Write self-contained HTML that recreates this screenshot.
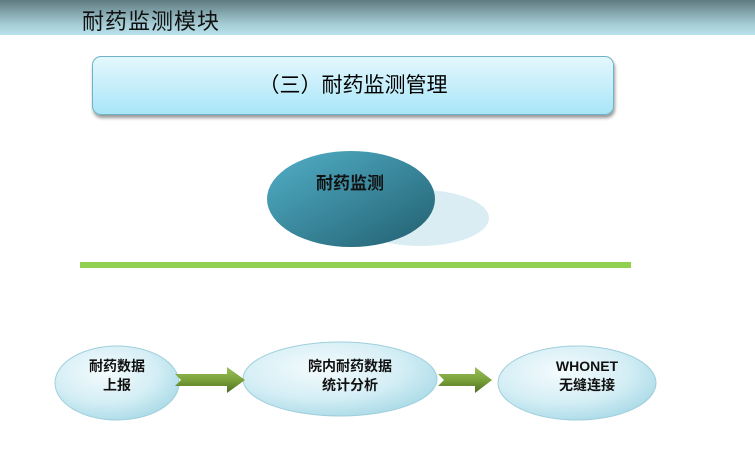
<!DOCTYPE html>
<html><head><meta charset="utf-8"><style>
body{margin:0;width:755px;height:462px;overflow:hidden;background:#fff;font-family:"Liberation Sans","Noto Sans CJK SC",sans-serif;position:relative}
.hdr{position:absolute;left:0;top:0;width:755px;height:35px;background:linear-gradient(#5f7b80,#a6cdd6 70%,#b8e2ec)}
.hdr span{position:absolute;left:82px;top:4px;font-size:22px;color:#111;letter-spacing:1px}
.title{position:absolute;left:92px;top:56px;width:520px;height:57px;border:1px solid #6fb3c9;border-radius:9px;background:linear-gradient(#e4f7fd,#a8e6f8);box-shadow:1px 3px 3px #999;text-align:center;line-height:57px;font-size:21px;color:#000}
.t{position:absolute;font-size:14px;font-weight:bold;color:#111;text-align:center;line-height:19px}
</style></head><body>
<div class="hdr"><span>耐药监测模块</span></div>
<div class="title">（三）耐药监测管理</div>
<svg width="755" height="462" style="position:absolute;left:0;top:0">
<defs>
<linearGradient id="g1" x1="0" y1="0" x2="1" y2="1"><stop offset="0" stop-color="#52b0c8"/><stop offset="1" stop-color="#225f70"/></linearGradient>
<radialGradient id="g2" cx="0.4" cy="0.35" r="0.7"><stop offset="0" stop-color="#f4fbfd"/><stop offset="0.6" stop-color="#d4eef5"/><stop offset="1" stop-color="#a9dae7"/></radialGradient>
<linearGradient id="ga" x1="0" y1="0" x2="0" y2="1"><stop offset="0" stop-color="#9cbf5a"/><stop offset="0.5" stop-color="#7aa23a"/><stop offset="1" stop-color="#4f6e20"/></linearGradient>
</defs>
<ellipse cx="420" cy="218" rx="69" ry="28" fill="#d9edf3"/>
<ellipse cx="351" cy="199" rx="84" ry="48" fill="url(#g1)"/>
<rect x="80" y="262" width="551" height="6" fill="#92d050"/>
<ellipse cx="117" cy="383" rx="62" ry="37" fill="url(#g2)" stroke="#9fcfdc" stroke-width="1"/>
<ellipse cx="340" cy="379" rx="97" ry="37" fill="url(#g2)" stroke="#9fcfdc" stroke-width="1"/>
<ellipse cx="577" cy="383" rx="79" ry="37" fill="url(#g2)" stroke="#9fcfdc" stroke-width="1"/>
<polygon points="175,374 227,374 227,367 245,380 227,393 227,386 175,386 181,380" fill="url(#ga)"/>
<polygon points="438,374 475,374 475,367 492,380 475,393 475,386 438,386 444,380" fill="url(#ga)"/>
</svg>
<div class="t" style="left:300px;top:174px;width:100px;font-size:17px">耐药监测</div>
<div class="t" style="left:67px;top:357px;width:100px">耐药数据<br>上报</div>
<div class="t" style="left:290px;top:357px;width:120px">院内耐药数据<br>统计分析</div>
<div class="t" style="left:537px;top:357px;width:100px">WHONET<br>无缝连接</div>
</body></html>
